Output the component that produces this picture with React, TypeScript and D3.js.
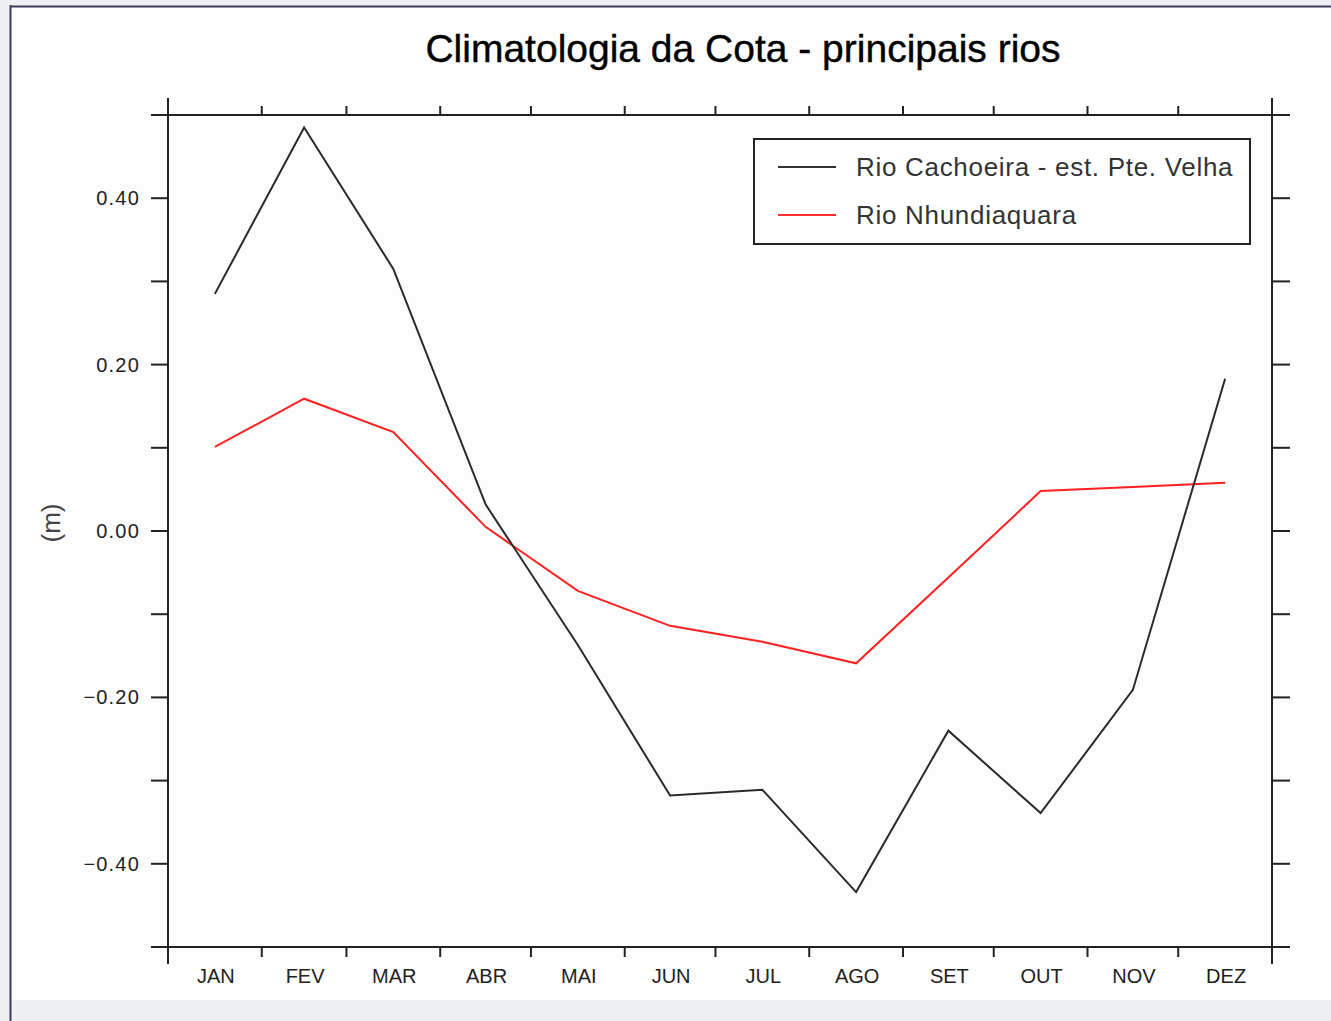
import React from "react";
import * as d3 from "d3";

const months = ["JAN", "FEV", "MAR", "ABR", "MAI", "JUN", "JUL", "AGO", "SET", "OUT", "NOV", "DEZ"];
const daysInMonth = [31, 28, 31, 30, 31, 30, 31, 31, 30, 31, 30, 31];
const cachoeira = [0.285, 0.485, 0.315, 0.032, -0.137, -0.318, -0.311, -0.434, -0.24, -0.339, -0.191, 0.183];
const nhundiaquara = [0.101, 0.159, 0.119, 0.005, -0.072, -0.114, -0.133, -0.159, -0.056, 0.048, 0.053, 0.058];
const yTickValues = [-0.5, -0.4, -0.3, -0.2, -0.1, 0, 0.1, 0.2, 0.3, 0.4, 0.5];
const yLabelValues = [-0.4, -0.2, 0, 0.2, 0.4];
const seriesNames = ["Rio Cachoeira - est. Pte. Velha", "Rio Nhundiaquara"];
const title = "Climatologia da Cota - principais rios";
const yTitle = "(m)";

const W = 1331;
const H = 1021;
const L = 168, R = 1272, T = 115, B = 947;

export default function App() {
  const starts = daysInMonth.map((_, i) => d3.sum(daysInMonth.slice(0, i)));
  const total = d3.sum(daysInMonth);
  const mids = starts.map((s, i) => s + daysInMonth[i] / 2);
  const x = d3.scaleLinear().domain([0, total]).range([L, R]);
  const y = d3.scaleLinear().domain([-0.5, 0.5]).range([B, T]);
  const line = d3.line<number>().x((_, i) => x(mids[i])).y((d) => y(d));
  const fmt = (v: number) => (v < 0 ? "\u2212" : "") + Math.abs(v).toFixed(2);
  const boundaries = [...starts, total];
  const font = "'Liberation Sans', Arial, Helvetica, sans-serif";

  return (
    <div style={{ position: "absolute", left: 0, top: 0 }}>
      <svg width={W} height={H} style={{ display: "block" }} fontFamily={font}>
        <rect x={0} y={0} width={W} height={H} fill="#eef0f4" />
        <rect x={11} y={7} width={W - 11} height={993} fill="#fdfdfd" />
        <line x1={10.5} y1={5} x2={10.5} y2={H} stroke="#3b3d60" strokeWidth={2} />
        <line x1={10} y1={6.5} x2={W} y2={6.5} stroke="#3b3d60" strokeWidth={2} />

        <text x={743} y={62} textAnchor="middle" fontSize={39} fill="#000" stroke="#000" strokeWidth={0.4}>{title}</text>

        {/* data lines */}
        <path d={line(nhundiaquara) || ""} fill="none" stroke="#ff2020" strokeWidth={2} />
        <path d={line(cachoeira) || ""} fill="none" stroke="#2a2a2a" strokeWidth={2} />

        {/* frame */}
        <g stroke="#222" strokeWidth={2} fill="none">
          <line x1={L} y1={T} x2={R} y2={T} />
          <line x1={L} y1={B} x2={R} y2={B} />
          <line x1={L} y1={T} x2={L} y2={B} />
          <line x1={R} y1={T} x2={R} y2={B} />
          {yTickValues.map((v) => (
            <g key={"yt" + v}>
              <line x1={L - 17} y1={y(v)} x2={L} y2={y(v)} />
              <line x1={R} y1={y(v)} x2={R + 18} y2={y(v)} />
            </g>
          ))}
          {boundaries.map((b, i) => {
            const long = i === 0 || i === boundaries.length - 1;
            return (
              <g key={"xt" + i}>
                <line x1={x(b)} y1={B} x2={x(b)} y2={B + (long ? 17 : 10)} />
                <line x1={x(b)} y1={T} x2={x(b)} y2={T - (long ? 17 : 9)} />
              </g>
            );
          })}
        </g>

        {yLabelValues.map((v) => (
          <text key={"yl" + v} x={140} y={y(v) + 7} textAnchor="end" fontSize={20} letterSpacing={1.2} fill="#222">
            {fmt(v)}
          </text>
        ))}
        {months.map((m, i) => (
          <text key={m} x={x(mids[i]) + 1} y={983} textAnchor="middle" fontSize={20} fill="#222">
            {m}
          </text>
        ))}
        <text transform={`translate(60,523) rotate(-90)`} textAnchor="middle" fontSize={26} fill="#444">
          {yTitle}
        </text>

        {/* legend */}
        <rect x={754} y={139} width={496} height={105} fill="#fff" stroke="#222" strokeWidth={2} />
        {seriesNames.map((n, i) => (
          <g key={n}>
            <line x1={778} x2={836} y1={167 + i * 48} y2={167 + i * 48} stroke={i === 0 ? "#333" : "#ff3030"} strokeWidth={2} />
            <text x={856} y={176 + i * 48} fontSize={26} letterSpacing={0.7} fill="#333">{n}</text>
          </g>
        ))}
      </svg>
    </div>
  );
}
